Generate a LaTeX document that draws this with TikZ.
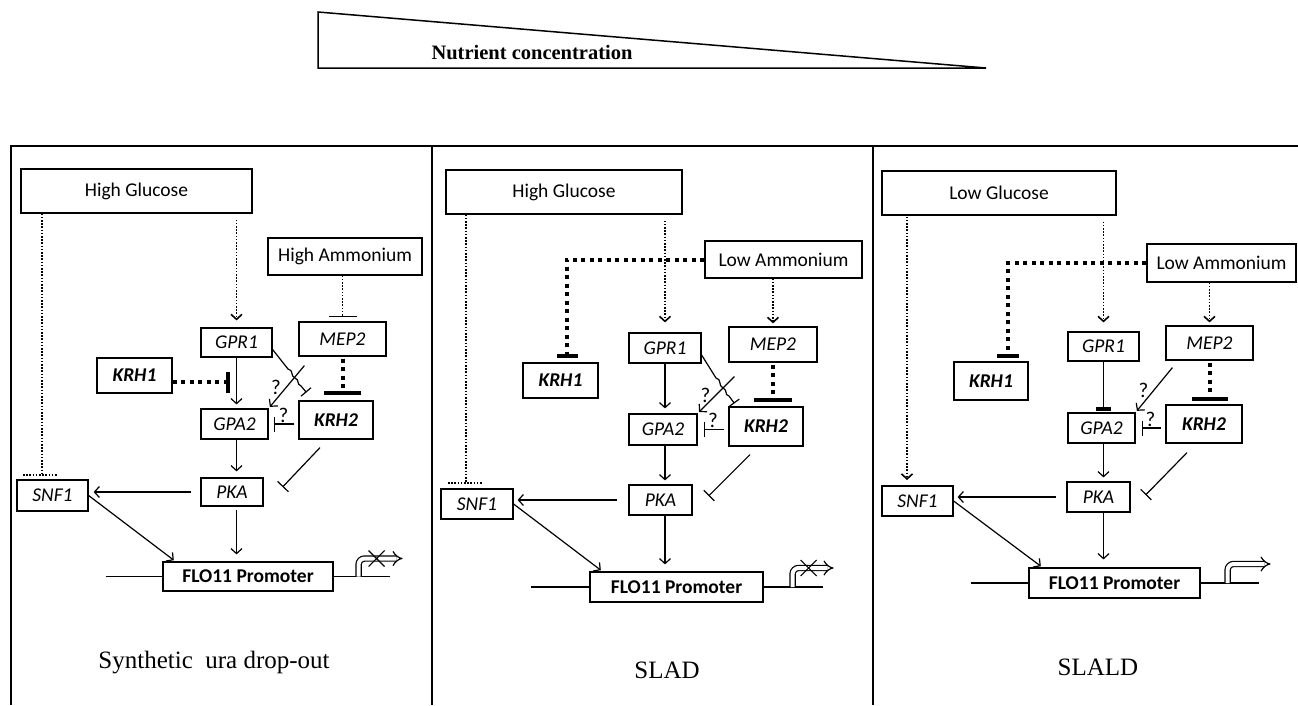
\documentclass[tikz,border=0pt]{standalone}
\usepackage{fontspec}
\newfontfamily\labelfont{Carlito}
\newfontfamily\titlefont{Liberation Serif}
\usetikzlibrary{arrows.meta}

\begin{document}
\begin{tikzpicture}[x=1pt,y=-1pt,
  cuebox/.style={draw,line width=1.2pt,inner sep=0pt,font=\labelfont\fontsize{19.5}{22}\selectfont},
  genebox/.style={cuebox,font=\labelfont\fontsize{19.5}{22}\selectfont\itshape},
  kinbox/.style={cuebox,font=\labelfont\fontsize{19.5}{22}\selectfont\bfseries\itshape},
  flobox/.style={cuebox,font=\labelfont\fontsize{19.5}{22}\selectfont\bfseries},
  wire/.style={line width=1.2pt},
  act/.style={wire,-{Straight Barb[length=5pt,width=11pt]}},
  inh/.style={wire,-{Bar[width=#1]}},
  inh/.default=15pt,
  thindot/.style={line width=1.6pt,dash pattern=on 1.6pt off 1.6pt},
  thickdot/.style={line width=4pt,dash pattern=on 4pt off 4.5pt},
  qmark/.style={font=\labelfont\fontsize{21}{23}\selectfont,inner sep=1pt},
  mediumname/.style={font=\titlefont\fontsize{25}{28}\selectfont},
  promoter/.style={line width=1.2pt,double distance=4pt,rounded corners=6pt,-{Implies}},
]
\useasboundingbox (0,0) rectangle (1298,705);

\draw[line width=1.5pt] (318,12) -- (318,68) -- (986,68) -- cycle;
\node[font=\titlefont\bfseries\fontsize{20.5}{23}\selectfont] (nutrient) at (532,53) {Nutrient concentration};

\draw[line width=2pt] (11,705) -- (11,146) -- (1298,146);
\draw[line width=2pt] (432,146) -- (432,705) (873,146) -- (873,705);

% synthetic ura drop-out
\node[cuebox,minimum width=231pt,minimum height=44pt] (glcA) at (136.5,191) {High Glucose};
\node[cuebox,minimum width=154pt,minimum height=37pt] (ammA) at (345,256.5) {High Ammonium};
\node[genebox,minimum width=71pt,minimum height=29pt] (gprA) at (236.5,342.5) {GPR1};
\node[genebox,minimum width=87pt,minimum height=34pt] (mepA) at (342.5,339) {MEP2};
\node[kinbox,minimum width=75pt,minimum height=35pt] (krhoneA) at (134.5,375.5) {KRH1};
\node[genebox,minimum width=67pt,minimum height=30pt] (gpaA) at (234.5,424) {GPA2};
\node[kinbox,minimum width=74pt,minimum height=38pt] (krhtwoA) at (336,420) {KRH2};
\node[genebox,minimum width=62pt,minimum height=28pt] (pkaA) at (232,492) {PKA};
\node[genebox,minimum width=71pt,minimum height=31pt] (snfA) at (52.5,495.5) {SNF1};
\node[flobox,minimum width=170pt,minimum height=29pt] (floA) at (248,576.5) {FLO11 Promoter};
\node[mediumname] (titleA) at (214,663) {Synthetic\ \ ura drop-out};

\coordinate (snfbarA) at (42,475);
\coordinate (krhbarA) at (230,382);
\draw[thindot] (glcA.south -| snfbarA) -- (snfbarA);
\draw[thindot] ([xshift=-19pt]snfbarA) -- ([xshift=16pt]snfbarA);
\draw[act,thindot,shorten <=6pt,shorten >=7pt] (glcA.south -| gprA) -- (gprA.north);
\draw[inh=28pt,thindot,shorten >=4pt] (ammA.south -| mepA) -- (mepA.north);
\draw[inh=37pt,thickdot,shorten <=2pt,shorten >=5pt] (mepA.south) -- (krhtwoA.north -| mepA);
\draw[inh=21pt,thickdot] (krhoneA.east |- krhbarA) -- (krhbarA);
\draw[act,shorten >=4pt] (gprA.south) -- (gpaA.north -| gprA);
\draw[inh=13pt] ([yshift=-7pt]gprA.east) -- (288,369) .. controls (294,370) and (290,376) .. (295,378)
  .. controls (300,380) and (296,384) .. (301,386) -- ([shift={(8pt,8pt)}]krhtwoA.north west);
\draw[act,shorten >=2pt] ([shift={(6pt,-9pt)}]mepA.south west) -- node[qmark,midway,left=4pt] {?} (gpaA.north east);
\draw[inh,shorten <=4pt,shorten >=5pt] (krhtwoA.west |- gpaA) -- node[qmark,midway,above] {?} (gpaA.east);
\draw[inh] ([shift={(-16pt,-8pt)}]krhtwoA.south) -- ([shift={(19pt,5pt)}]pkaA.east);
\draw[act,shorten >=6pt] (gpaA.south -| gprA) -- (pkaA.north -| gprA);
\draw[act,shorten <=9pt,shorten >=5pt] (pkaA.west) -- (snfA.east |- pkaA.west);
\draw[act,shorten >=2pt] (snfA.east) -- ([xshift=13pt]floA.north west);
\draw[act,shorten <=3pt,shorten >=7pt] (pkaA.south -| gprA) -- (floA.north -| gprA);
\draw[wire] (floA.west) -- +(-56,0) (floA.east) -- +(56,0);
\draw[promoter] ([xshift=25pt]floA.east) |- +(44,-18);
\coordinate (stopA) at ([shift={(43pt,18pt)}]floA.east);
\draw[wire] ([shift={(-8pt,8pt)}]stopA) -- ([shift={(8pt,-8pt)}]stopA) ([shift={(-8pt,-8pt)}]stopA) -- ([shift={(8pt,8pt)}]stopA);

% SLAD
\node[cuebox,minimum width=236pt,minimum height=44pt] (glcB) at (564,192) {High Glucose};
\node[cuebox,minimum width=157pt,minimum height=37pt] (ammB) at (783.5,259.5) {Low Ammonium};
\node[genebox,minimum width=72pt,minimum height=30pt] (gprB) at (665,348) {GPR1};
\node[genebox,minimum width=88pt,minimum height=35pt] (mepB) at (773,344.5) {MEP2};
\node[kinbox,minimum width=75pt,minimum height=35pt] (krhoneB) at (560.5,380.5) {KRH1};
\node[genebox,minimum width=68pt,minimum height=31pt] (gpaB) at (663,429.5) {GPA2};
\node[kinbox,minimum width=74pt,minimum height=39pt] (krhtwoB) at (766,426.5) {KRH2};
\node[genebox,minimum width=63pt,minimum height=30pt] (pkaB) at (660.5,500) {PKA};
\node[genebox,minimum width=72pt,minimum height=30pt] (snfB) at (477,504) {SNF1};
\node[flobox,minimum width=173pt,minimum height=30pt] (floB) at (676.5,587) {FLO11 Promoter};
\node[mediumname] (titleB) at (667,670) {SLAD};

\coordinate (snfbarB) at (466,483);
\coordinate (krhbarB) at (567,358);
\draw[thindot] (glcB.south -| snfbarB) -- (snfbarB);
\draw[thindot] ([xshift=-18pt]snfbarB) -- ([xshift=17pt]snfbarB);
\draw[act,thindot,shorten <=6pt,shorten >=10pt] (glcB.south -| gprB) -- (gprB.north);
\draw[inh=21pt,thickdot] (ammB.west) -| (krhbarB);
\draw[act,thindot,shorten >=3pt] (ammB.south -| mepB) -- (mepB.north);
\draw[inh=38pt,thickdot,shorten <=2pt,shorten >=4pt] (mepB.south) -- (krhtwoB.north -| mepB);
\draw[act,shorten >=5pt] (gprB.south) -- (gpaB.north -| gprB);
\draw[inh=13pt] ([yshift=-7pt]gprB.east) -- (716,378) .. controls (722,379) and (718,386) .. (723,388)
  .. controls (728,390) and (724,395) .. (729,396) -- ([shift={(6pt,3pt)}]krhtwoB.north west);
\draw[act,shorten >=2pt] ([shift={(6pt,-14pt)}]mepB.south west) -- node[qmark,midway,left=4pt] {?} (gpaB.north east);
\draw[inh,shorten <=4pt,shorten >=6pt] (krhtwoB.west |- gpaB) -- node[qmark,midway,above] {?} (gpaB.east);
\draw[inh] ([shift={(-16pt,-8pt)}]krhtwoB.south) -- ([shift={(16pt,4pt)}]pkaB.east);
\draw[act,shorten >=4pt] (gpaB.south -| gprB) -- (pkaB.north -| gprB);
\draw[act,shorten <=11pt,shorten >=4pt] (pkaB.west) -- (snfB.east |- pkaB.west);
\draw[act,shorten >=2pt] (snfB.east) -- ([xshift=13pt]floB.north west);
\draw[act,shorten >=7pt] (pkaB.south -| gprB) -- (floB.north -| gprB);
\draw[wire] (floB.west) -- +(-58,0) (floB.east) -- +(59,0);
\draw[promoter] ([xshift=29pt]floB.east) |- +(41,-19);
\coordinate (stopB) at ([shift={(45pt,19pt)}]floB.east);
\draw[wire] ([shift={(-8pt,8pt)}]stopB) -- ([shift={(8pt,-8pt)}]stopB) ([shift={(-8pt,-8pt)}]stopB) -- ([shift={(8pt,8pt)}]stopB);

% SLALD
\node[cuebox,minimum width=234pt,minimum height=44pt] (glcC) at (999,193) {Low Glucose};
\node[cuebox,minimum width=149pt,minimum height=38pt] (ammC) at (1221.5,263) {Low Ammonium};
\node[genebox,minimum width=71pt,minimum height=29pt] (gprC) at (1103.5,346.5) {GPR1};
\node[genebox,minimum width=87pt,minimum height=34pt] (mepC) at (1209.5,343) {MEP2};
\node[kinbox,minimum width=74pt,minimum height=38pt] (krhoneC) at (991,381) {KRH1};
\node[genebox,minimum width=67pt,minimum height=30pt] (gpaC) at (1101.5,428) {GPA2};
\node[kinbox,minimum width=76pt,minimum height=38pt] (krhtwoC) at (1204,424) {KRH2};
\node[genebox,minimum width=63pt,minimum height=30pt] (pkaC) at (1098.5,497) {PKA};
\node[genebox,minimum width=71pt,minimum height=30pt] (snfC) at (917.5,501) {SNF1};
\node[flobox,minimum width=171pt,minimum height=30pt] (floC) at (1114.5,583) {FLO11 Promoter};
\node[mediumname] (titleC) at (1098,667) {SLALD};

\coordinate (snfinC) at (907,480);
\coordinate (krhbarC) at (1008,358);
\draw[act,thindot,shorten <=1pt] (glcC.south -| snfinC) -- (snfinC);
\draw[act,thindot,shorten <=6pt,shorten >=9pt] (glcC.south -| gprC) -- (gprC.north);
\draw[inh=22pt,thickdot] (ammC.west) -| (krhbarC);
\draw[act,thindot,shorten >=3pt] (ammC.south -| mepC) -- (mepC.north);
\draw[inh=36pt,thickdot,shorten <=2pt,shorten >=3pt] (mepC.south) -- (krhtwoC.north -| mepC);
\draw[wire,-{Bar[width=15pt,line width=4pt]},shorten >=1pt] (gprC.south) -- (gpaC.north -| gprC);
\draw[act,shorten >=2pt] ([shift={(7pt,-7pt)}]mepC.south west) -- node[qmark,midway,left=4pt] {?} (gpaC.north east);
\draw[inh,shorten <=4pt,shorten >=6pt] (krhtwoC.west |- gpaC) -- node[qmark,midway,above] {?} (gpaC.east);
\draw[inh] ([shift={(-17pt,-9pt)}]krhtwoC.south) -- ([shift={(15pt,2pt)}]pkaC.east);
\draw[act,shorten >=4pt] (gpaC.south -| gprC) -- (pkaC.north -| gprC);
\draw[act,shorten <=10pt,shorten >=4pt] (pkaC.west) -- (snfC.east |- pkaC.west);
\draw[act,shorten >=2pt] (snfC.east) -- ([xshift=14pt]floC.north west);
\draw[act,shorten >=8pt] (pkaC.south -| gprC) -- (floC.north -| gprC);
\draw[wire] (floC.west) -- +(-57,0) (floC.east) -- +(58,0);
\draw[promoter] ([xshift=27pt]floC.east) |- +(43,-19);
\end{tikzpicture}
\end{document}
